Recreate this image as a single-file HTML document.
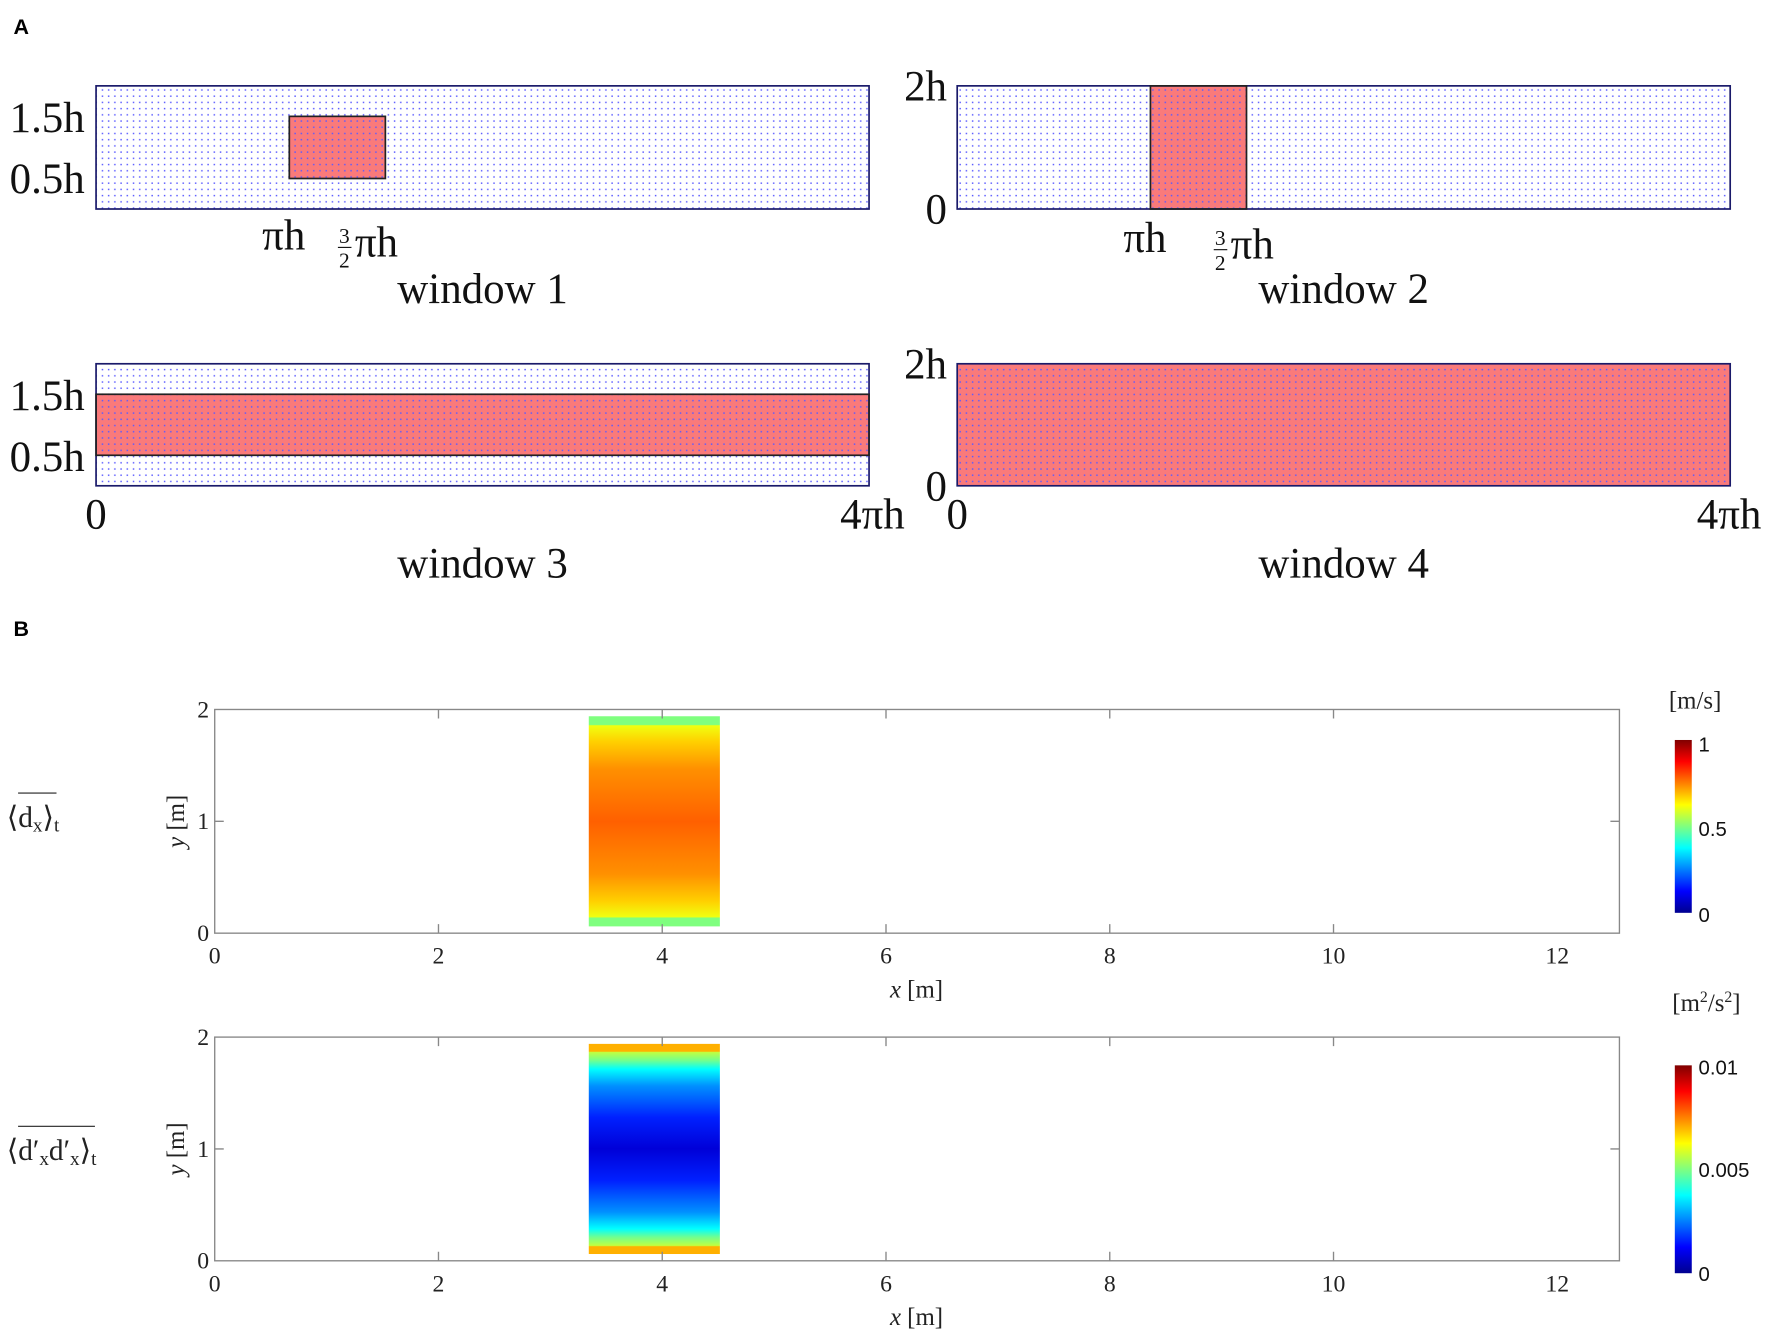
<!DOCTYPE html>
<html><head><meta charset="utf-8"><style>html,body{margin:0;padding:0;background:#fff}svg{display:block}</style></head>
<body>
<svg width="1772" height="1341" viewBox="0 0 1568 1187" preserveAspectRatio="none" xmlns="http://www.w3.org/2000/svg">
<defs>
<pattern id="dots" width="5.5" height="5.5" patternUnits="userSpaceOnUse">
<rect x="2" y="2" width="1.3" height="1.3" fill="#5a5aff"/>
</pattern>
<linearGradient id="jet" x1="0" y1="1" x2="0" y2="0">
<stop offset="0" stop-color="#00008f"/><stop offset="0.125" stop-color="#0000ff"/><stop offset="0.375" stop-color="#00ffff"/><stop offset="0.625" stop-color="#ffff00"/><stop offset="0.875" stop-color="#ff0000"/><stop offset="1" stop-color="#800000"/>
</linearGradient>
<linearGradient id="h1" x1="0" y1="0" x2="0" y2="1">
<stop offset="0" stop-color="#7fff7f"/><stop offset="0.04" stop-color="#7fff7f"/><stop offset="0.045" stop-color="#f0ff10"/><stop offset="0.12" stop-color="#ffd000"/><stop offset="0.25" stop-color="#ff9000"/><stop offset="0.5" stop-color="#ff6000"/><stop offset="0.75" stop-color="#ff9000"/><stop offset="0.88" stop-color="#ffd000"/><stop offset="0.955" stop-color="#f0ff10"/><stop offset="0.96" stop-color="#7fff7f"/><stop offset="1" stop-color="#7fff7f"/>
</linearGradient>
<linearGradient id="h2" x1="0" y1="0" x2="0" y2="1">
<stop offset="0" stop-color="#ffb000"/><stop offset="0.035" stop-color="#ffb000"/><stop offset="0.04" stop-color="#c0ff40"/><stop offset="0.08" stop-color="#70ff90"/><stop offset="0.12" stop-color="#00ffff"/><stop offset="0.2" stop-color="#0090ff"/><stop offset="0.35" stop-color="#0020ff"/><stop offset="0.5" stop-color="#0000d8"/><stop offset="0.65" stop-color="#0020ff"/><stop offset="0.8" stop-color="#0090ff"/><stop offset="0.88" stop-color="#00ffff"/><stop offset="0.92" stop-color="#70ff90"/><stop offset="0.96" stop-color="#c0ff40"/><stop offset="0.965" stop-color="#ffb000"/><stop offset="1" stop-color="#ffb000"/>
</linearGradient>
</defs>
<g font-family="Liberation Sans, sans-serif" font-weight="bold" font-size="19"><text x="12" y="30">A</text><text x="12" y="563">B</text></g>
<g font-family="Liberation Serif, serif" font-size="38" fill="#111">
<!-- window 1 -->
<rect x="256" y="103" width="85" height="55" fill="#fa7a7a"/>
<rect x="85" y="76" width="684" height="109" fill="url(#dots)" stroke="#1a1a6a" stroke-width="1.5"/>
<rect x="256" y="103" width="85" height="55" fill="none" stroke="#222" stroke-width="1.5"/>
<text x="75" y="117" text-anchor="end">1.5h</text><text x="75" y="171" text-anchor="end">0.5h</text>
<text x="232" y="221">πh</text><text x="314" y="227">πh</text><text x="300" y="215" font-size="19">3</text><line x1="299" y1="219" x2="311" y2="219" stroke="#111"/><text x="300" y="237" font-size="19">2</text>
<text x="427" y="268" text-anchor="middle">window 1</text>
<!-- window 2 -->
<rect x="1018" y="76" width="85" height="109" fill="#fa7a7a"/>
<rect x="847" y="76" width="684" height="109" fill="url(#dots)" stroke="#1a1a6a" stroke-width="1.5"/>
<rect x="1018" y="76" width="85" height="109" fill="none" stroke="#222" stroke-width="1.5"/>
<text x="838" y="89" text-anchor="end">2h</text><text x="838" y="198" text-anchor="end">0</text>
<text x="994" y="223">πh</text><text x="1089" y="229">πh</text><text x="1075" y="217" font-size="19">3</text><line x1="1074" y1="221" x2="1086" y2="221" stroke="#111"/><text x="1075" y="239" font-size="19">2</text>
<text x="1189" y="268" text-anchor="middle">window 2</text>
<!-- window 3 -->
<rect x="85" y="349" width="684" height="54" fill="#fa7a7a"/>
<rect x="85" y="322" width="684" height="108" fill="url(#dots)" stroke="#1a1a6a" stroke-width="1.5"/>
<rect x="85" y="349" width="684" height="54" fill="none" stroke="#222" stroke-width="1.5"/>
<text x="75" y="363" text-anchor="end">1.5h</text><text x="75" y="417" text-anchor="end">0.5h</text>
<text x="85" y="468" text-anchor="middle">0</text><text x="772" y="468" text-anchor="middle">4πh</text>
<text x="427" y="511" text-anchor="middle">window 3</text>
<!-- window 4 -->
<rect x="847" y="322" width="684" height="108" fill="#fa7a7a"/>
<rect x="847" y="322" width="684" height="108" fill="url(#dots)" stroke="#1a1a6a" stroke-width="1.5"/>
<text x="838" y="335" text-anchor="end">2h</text><text x="838" y="443" text-anchor="end">0</text>
<text x="847" y="468" text-anchor="middle">0</text><text x="1530" y="468" text-anchor="middle">4πh</text>
<text x="1189" y="511" text-anchor="middle">window 4</text>
</g>
<!-- B plots -->
<g font-family="Liberation Serif, serif" fill="#222">
<rect x="521" y="634" width="116" height="186" fill="url(#h1)"/>
<rect x="190" y="628" width="1243" height="198" fill="none" stroke="#888" stroke-width="1.2"/>
<rect x="521" y="924" width="116" height="186" fill="url(#h2)"/>
<rect x="190" y="918" width="1243" height="198" fill="none" stroke="#888" stroke-width="1.2"/>
<g stroke="#888" stroke-width="1.2">
<path d="M388 628v8M586 628v8M784 628v8M982 628v8M1180 628v8M388 826v-8M586 826v-8M784 826v-8M982 826v-8M1180 826v-8M190 727h8M1433 727h-8"/>
<path d="M388 918v8M586 918v8M784 918v8M982 918v8M1180 918v8M388 1116v-8M586 1116v-8M784 1116v-8M982 1116v-8M1180 1116v-8M190 1017h8M1433 1017h-8"/>
</g>
<g font-size="21" text-anchor="middle">
<text x="190" y="853">0</text><text x="388" y="853">2</text><text x="586" y="853">4</text><text x="784" y="853">6</text><text x="982" y="853">8</text><text x="1180" y="853">10</text><text x="1378" y="853">12</text>
<text x="190" y="1143">0</text><text x="388" y="1143">2</text><text x="586" y="1143">4</text><text x="784" y="1143">6</text><text x="982" y="1143">8</text><text x="1180" y="1143">10</text><text x="1378" y="1143">12</text>
</g>
<g font-size="21" text-anchor="end">
<text x="185" y="635">2</text><text x="185" y="734">1</text><text x="185" y="833">0</text>
<text x="185" y="925">2</text><text x="185" y="1024">1</text><text x="185" y="1123">0</text>
</g>
<g font-size="22">
<text x="811" y="883" text-anchor="middle"><tspan font-style="italic">x</tspan> [m]</text>
<text x="811" y="1173" text-anchor="middle"><tspan font-style="italic">x</tspan> [m]</text>
<text transform="translate(163 727) rotate(-90)" text-anchor="middle"><tspan font-style="italic">y</tspan> [m]</text>
<text transform="translate(163 1017) rotate(-90)" text-anchor="middle"><tspan font-style="italic">y</tspan> [m]</text>
<text x="1500" y="627" text-anchor="middle">[m/s]</text>
<text x="1510" y="895" text-anchor="middle">[m<tspan font-size="14" dy="-8">2</tspan><tspan dy="8">/s</tspan><tspan font-size="14" dy="-8">2</tspan><tspan dy="8">]</tspan></text>
</g>
<g font-size="26">
<text x="6" y="732">⟨d<tspan font-size="17" dy="4">x</tspan><tspan dy="-4">⟩</tspan><tspan font-size="17" dy="4">t</tspan></text>
<line x1="16" y1="702" x2="50" y2="702" stroke="#222"/>
<text x="6" y="1027">⟨d′<tspan font-size="17" dy="4">x</tspan><tspan dy="-4">d′</tspan><tspan font-size="17" dy="4">x</tspan><tspan dy="-4">⟩</tspan><tspan font-size="17" dy="4">t</tspan></text>
<line x1="16" y1="997" x2="84" y2="997" stroke="#222"/>
</g>
</g>
<rect x="1482" y="655" width="15" height="153" fill="url(#jet)"/>
<rect x="1482" y="943" width="15" height="184" fill="url(#jet)"/>
<g font-family="Liberation Sans, sans-serif" font-size="18" fill="#111">
<text x="1503" y="665">1</text><text x="1503" y="740">0.5</text><text x="1503" y="816">0</text>
<text x="1503" y="951">0.01</text><text x="1503" y="1042">0.005</text><text x="1503" y="1134">0</text>
</g>
</svg>
</body></html>
